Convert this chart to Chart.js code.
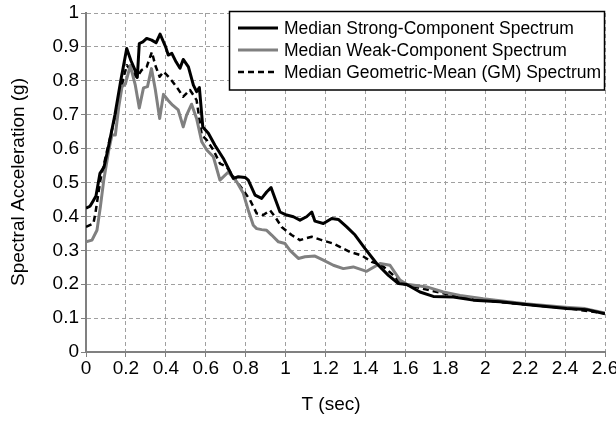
<!DOCTYPE html>
<html>
<head>
<meta charset="utf-8">
<script src="https://cdn.jsdelivr.net/npm/chart.js@4/dist/chart.umd.min.js"></script>
<style>
  html, body { margin: 0; padding: 0; background: #fff; }
  #wrap { width: 616px; height: 422px; position: relative; }
</style>
</head>
<body>
<div id="wrap"><canvas id="chart"></canvas></div>
<script>
// periods (sec) and spectral accelerations (g)
const strongT = [0, 0.02, 0.035, 0.05, 0.07, 0.09, 0.11, 0.145, 0.174, 0.204, 0.225, 0.245, 0.257, 0.267, 0.285, 0.304, 0.329, 0.351, 0.371, 0.399, 0.412, 0.43, 0.451, 0.471, 0.487, 0.513, 0.538, 0.554, 0.568, 0.585, 0.613, 0.646, 0.688, 0.738, 0.763, 0.797, 0.813, 0.847, 0.88, 0.905, 0.927, 0.947, 0.972, 1.005, 1.039, 1.072, 1.105, 1.131, 1.147, 1.189, 1.231, 1.264, 1.306, 1.348, 1.398, 1.456, 1.515, 1.565, 1.607, 1.673, 1.74, 1.84, 1.94, 2.074, 2.241, 2.408, 2.508, 2.6];
const strongSa = [0.424, 0.43, 0.445, 0.46, 0.527, 0.545, 0.598, 0.70, 0.80, 0.895, 0.86, 0.832, 0.81, 0.91, 0.915, 0.925, 0.92, 0.912, 0.938, 0.90, 0.876, 0.881, 0.856, 0.837, 0.863, 0.841, 0.787, 0.768, 0.78, 0.664, 0.645, 0.61, 0.571, 0.512, 0.517, 0.515, 0.507, 0.463, 0.453, 0.472, 0.485, 0.453, 0.413, 0.404, 0.399, 0.389, 0.399, 0.413, 0.386, 0.379, 0.394, 0.391, 0.369, 0.345, 0.305, 0.261, 0.226, 0.202, 0.199, 0.177, 0.164, 0.162, 0.153, 0.148, 0.138, 0.128, 0.125, 0.113];

const weakT = [0, 0.03, 0.055, 0.072, 0.089, 0.114, 0.13, 0.147, 0.164, 0.18, 0.197, 0.222, 0.247, 0.267, 0.288, 0.308, 0.328, 0.347, 0.369, 0.388, 0.412, 0.434, 0.462, 0.487, 0.504, 0.529, 0.554, 0.58, 0.605, 0.638, 0.671, 0.713, 0.755, 0.788, 0.813, 0.838, 0.855, 0.88, 0.905, 0.93, 0.964, 0.997, 1.022, 1.064, 1.097, 1.147, 1.189, 1.239, 1.289, 1.339, 1.406, 1.473, 1.523, 1.573, 1.607, 1.707, 1.79, 1.874, 1.99, 2.2, 2.4, 2.5, 2.6];
const weakSa = [0.325, 0.33, 0.359, 0.428, 0.507, 0.595, 0.64, 0.64, 0.723, 0.782, 0.79, 0.845, 0.787, 0.72, 0.779, 0.783, 0.836, 0.775, 0.689, 0.76, 0.742, 0.728, 0.714, 0.664, 0.699, 0.731, 0.689, 0.62, 0.596, 0.576, 0.507, 0.531, 0.502, 0.468, 0.418, 0.374, 0.364, 0.361, 0.359, 0.345, 0.325, 0.32, 0.30, 0.276, 0.281, 0.283, 0.271, 0.256, 0.246, 0.251, 0.238, 0.261, 0.256, 0.212, 0.2, 0.192, 0.177, 0.167, 0.157, 0.142, 0.132, 0.128, 0.115];

const gmT = [0, 0.037, 0.047, 0.072, 0.1, 0.13, 0.164, 0.189, 0.205, 0.23, 0.255, 0.279, 0.304, 0.33, 0.347, 0.369, 0.389, 0.421, 0.454, 0.487, 0.521, 0.554, 0.58, 0.605, 0.638, 0.671, 0.705, 0.738, 0.788, 0.822, 0.855, 0.888, 0.922, 0.947, 0.98, 1.03, 1.072, 1.097, 1.131, 1.181, 1.239, 1.289, 1.323, 1.381, 1.431, 1.481, 1.531, 1.58, 1.7, 1.8, 2.0, 2.2, 2.4, 2.6];
const gmSa = [0.369, 0.379, 0.409, 0.507, 0.58, 0.655, 0.743, 0.812, 0.846, 0.827, 0.81, 0.832, 0.841, 0.885, 0.846, 0.812, 0.827, 0.807, 0.782, 0.753, 0.773, 0.743, 0.64, 0.625, 0.596, 0.556, 0.546, 0.517, 0.477, 0.448, 0.409, 0.404, 0.418, 0.399, 0.369, 0.345, 0.33, 0.335, 0.34, 0.33, 0.32, 0.305, 0.295, 0.285, 0.266, 0.256, 0.231, 0.202, 0.185, 0.172, 0.152, 0.14, 0.13, 0.114];

const seriesNames = ["Median Strong-Component Spectrum", "Median Weak-Component Spectrum", "Median Geometric-Mean (GM) Spectrum"];
const xTitle = "T (sec)";
const yTitle = "Spectral Acceleration (g)";

const font = "Liberation Sans, Arial, sans-serif";
const pts = (xs, ys) => xs.map((x, i) => ({ x, y: ys[i] }));

const boxLegend = {
  id: "boxLegend",
  afterDraw(chart) {
    const ctx = chart.ctx;
    const sets = chart.data.datasets;
    ctx.save();
    ctx.fillStyle = "#fff";
    ctx.fillRect(229.5, 11.5, 375, 78.5);
    ctx.strokeStyle = "#000";
    ctx.lineWidth = 1.5;
    ctx.strokeRect(229.5, 11.5, 375, 78.5);
    ctx.font = `17.5px ${font}`;
    ctx.textBaseline = "middle";
    sets.forEach((ds, i) => {
      const y = 28 + i * 22;
      ctx.strokeStyle = ds.borderColor;
      ctx.lineWidth = ds.borderWidth;
      ctx.setLineDash(ds.borderDash || []);
      ctx.beginPath();
      ctx.moveTo(238, y);
      ctx.lineTo(278, y);
      ctx.stroke();
      ctx.setLineDash([]);
      ctx.fillStyle = "#000";
      ctx.fillText(ds.label, 284, y + 1);
    });
    // axis titles
    ctx.font = `19px ${font}`;
    ctx.fillStyle = "#000";
    ctx.textAlign = "center";
    ctx.fillText(xTitle, 331, 405);
    ctx.translate(19, 182);
    ctx.rotate(-Math.PI / 2);
    ctx.fillText(yTitle, 0, 0);
    ctx.restore();
  }
};

new Chart(document.getElementById("chart"), {
  type: "line",
  data: {
    datasets: [
      { label: seriesNames[0], data: pts(strongT, strongSa), borderColor: "#000", borderWidth: 3 },
      { label: seriesNames[1], data: pts(weakT, weakSa), borderColor: "#808080", borderWidth: 3 },
      { label: seriesNames[2], data: pts(gmT, gmSa), borderColor: "#000", borderWidth: 2.5, borderDash: [6, 4] }
    ]
  },
  options: {
    responsive: true,
    maintainAspectRatio: false,
    animation: false,
    layout: { padding: { left: 0, right: 11, top: 13, bottom: 0 } },
    elements: { point: { radius: 0 }, line: { tension: 0, borderJoinStyle: "round" } },
    plugins: { legend: { display: false }, tooltip: { enabled: false } },
    scales: {
      x: {
        type: "linear",
        min: 0,
        max: 2.6,
        ticks: { stepSize: 0.2, autoSkip: false, maxRotation: 0, color: "#000", padding: 0, font: { family: font, size: 19 }, callback: v => String(+v.toFixed(1)) },
        grid: { color: "#a0a0a0", lineWidth: 1, tickLength: 5, tickColor: "#808080", tickBorderDash: [] },
        border: { color: "#808080", width: 2, dash: [4, 3] },
        afterFit: s => { s.height = 70; s.paddingLeft = 0; s.paddingRight = 0; }
      },
      y: {
        min: 0,
        max: 1,
        ticks: { stepSize: 0.1, color: "#000", padding: 2, font: { family: font, size: 19 }, callback: v => String(+v.toFixed(1)) },
        grid: { color: "#a0a0a0", lineWidth: 1, tickLength: 5, tickColor: "#808080", tickBorderDash: [] },
        border: { color: "#808080", width: 2, dash: [4, 3] },
        afterFit: s => { s.width = 86; s.paddingTop = 0; s.paddingBottom = 0; }
      }
    }
  },
  plugins: [boxLegend]
});
</script>
</body>
</html>
